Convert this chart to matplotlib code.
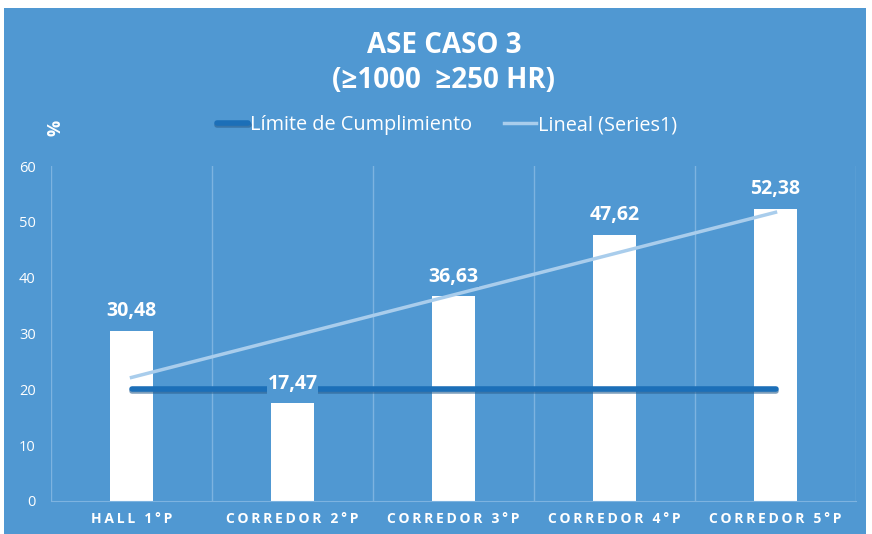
import numpy as np
import matplotlib
matplotlib.use("Agg")
import matplotlib.pyplot as plt
import matplotlib.patheffects as pe
from matplotlib.patches import Rectangle

plt.rcParams['font.family'] = ['Open Sans', 'DejaVu Sans']

categorias = ['HALL 1°P', 'CORREDOR 2°P', 'CORREDOR 3°P', 'CORREDOR 4°P', 'CORREDOR 5°P']
valores = [30.48, 17.47, 36.63, 47.62, 52.38]
limite = [20, 20, 20, 20, 20]
titulo = 'ASE CASO 3\n(≥1000  ≥250 HR)'

fondo = '#5098D2'
rejilla = '#7DB3E0'

fig = plt.figure(figsize=(8.72, 5.34), dpi=100, facecolor='white')
fig.patches.append(Rectangle((4 / 872, 0), 862 / 872, 526 / 534, transform=fig.transFigure,
                             facecolor=fondo, edgecolor='none', zorder=-10))

ax = fig.add_axes([51 / 872, 33 / 534, 805 / 872, 335 / 534])
ax.set_facecolor('none')

x = np.arange(len(categorias))
ax.bar(x, valores, width=0.27, color='white', zorder=2)

# linea de limite
ax.plot(x, limite, color='#1C6FB8', lw=4, solid_capstyle='round', zorder=4,
        path_effects=[pe.SimpleLineShadow(offset=(0.5, -1.5), shadow_color='#2A5F8E', alpha=0.6),
                      pe.Normal()], label='Límite de Cumplimiento')

# tendencia lineal
m, b = np.polyfit(x + 1, valores, 1)
ax.plot(x, m * (x + 1) + b, color='#A9CDEC', lw=2.5, zorder=3, label='Lineal (Series1)')

for i, v in enumerate(valores):
    txt = f'{v:.2f}'.replace('.', ',')
    ax.annotate(txt, (i, v), xytext=(0, 7), textcoords='offset points', ha='center', va='bottom',
                color='white', fontsize=14, fontweight='bold', zorder=5,
                bbox=dict(boxstyle='square,pad=0.03', facecolor=fondo, edgecolor='none'))

ax.set_xlim(-0.5, 4.5)
ax.set_ylim(0, 60)
ax.set_yticks(range(0, 61, 10))
ax.set_xticks(x)
ax.set_xticklabels(['\u2009'.join(c) for c in categorias], fontweight='bold', fontsize=10)
ax.set_xticks(np.arange(-0.5, 5, 1), minor=True)
ax.grid(True, which='minor', axis='x', color=rejilla, lw=1)
ax.tick_params(which='both', length=0, colors='white')
ax.tick_params(axis='y', labelsize=10.5, pad=11)
ax.tick_params(axis='x', pad=8)
for s in ['top', 'left', 'right']:
    ax.spines[s].set_visible(False)
ax.spines['bottom'].set_color(rejilla)

fig.text(444 / 872, 1 - 63 / 534, titulo, ha='center', va='center', color='white', fontsize=20,
         fontweight='bold', linespacing=1.3)
fig.text(55 / 872, 1 - 128 / 534, '%', rotation=90, ha='center', va='center', color='white',
         fontsize=13, fontweight='bold')
fig.legend(loc='center', bbox_to_anchor=(447 / 872, 1 - 125 / 534), ncol=2, frameon=False,
           labelcolor='white', fontsize=14.3, handlelength=1.6, handletextpad=0.1, columnspacing=1.6)

fig.savefig('out.png', dpi=100, facecolor='white')
